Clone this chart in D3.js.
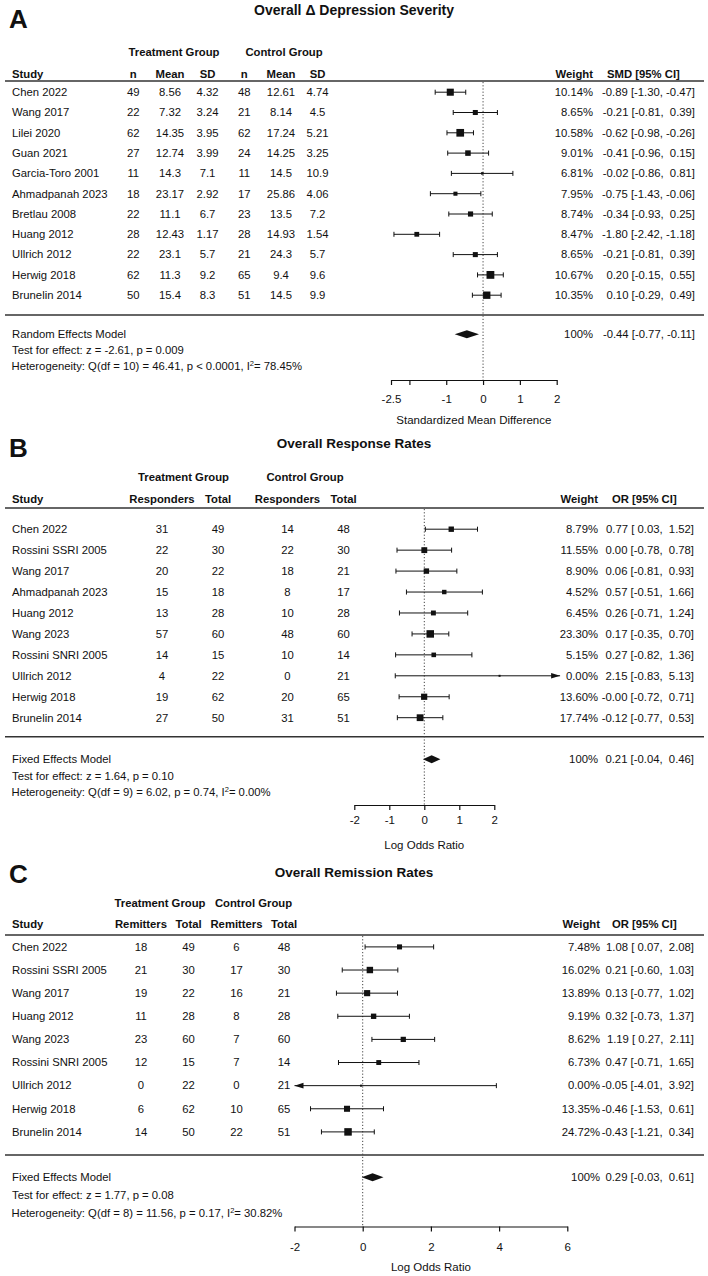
<!DOCTYPE html>
<html><head><meta charset="utf-8">
<script src="https://cdn.jsdelivr.net/npm/d3@7"></script>
<style>
body{margin:0;background:#fff;}
svg{display:block;font-family:"Liberation Sans",Arial,Helvetica,sans-serif;}
text{fill:#111;white-space:pre;}
</style></head><body>
<svg id="chart" width="708" height="1276"></svg>
<script>
// ---------- Panel A : Overall Δ Depression Severity ----------
const studiesA = ["Chen 2022","Wang 2017","Lilei 2020","Guan 2021","Garcia-Toro 2001","Ahmadpanah 2023","Bretlau 2008","Huang 2012","Ullrich 2012","Herwig 2018","Brunelin 2014"];
const tnA    = [49,22,62,27,11,18,22,28,22,62,50];
const tmeanA = [8.56,7.32,14.35,12.74,14.3,23.17,11.1,12.43,23.1,11.3,15.4];
const tsdA   = [4.32,3.24,3.95,3.99,7.1,2.92,6.7,1.17,5.7,9.2,8.3];
const cnA    = [48,21,62,24,11,17,23,28,21,65,51];
const cmeanA = [12.61,8.14,17.24,14.25,14.5,25.86,13.5,14.93,24.3,9.4,14.5];
const csdA   = [4.74,4.5,5.21,3.25,10.9,4.06,7.2,1.54,5.7,9.6,9.9];
const weightA = [10.14,8.65,10.58,9.01,6.81,7.95,8.74,8.47,8.65,10.67,10.35];
const estA  = [-0.89,-0.21,-0.62,-0.41,-0.02,-0.75,-0.34,-1.80,-0.21,0.20,0.10];
const lowA  = [-1.30,-0.81,-0.98,-0.96,-0.86,-1.43,-0.93,-2.42,-0.81,-0.15,-0.29];
const highA = [-0.47,0.39,-0.26,0.15,0.81,-0.06,0.25,-1.18,0.39,0.55,0.49];
const summaryA = [-0.44,-0.77,-0.11];
const ticksA = [-2.5,-2,-1,0,1,2];
const tickLabelsA = ["-2.5","","-1","0","1","2"];
const domainA = [-2.5,2];
const textA = ["Random Effects Model","Test for effect: z = -2.61, p = 0.009","Heterogeneity: Q(df = 10) = 46.41, p < 0.0001, I","2","= 78.45%"];

// ---------- Panel B : Overall Response Rates ----------
const studiesB = ["Chen 2022","Rossini SSRI 2005","Wang 2017","Ahmadpanah 2023","Huang 2012","Wang 2023","Rossini SNRI 2005","Ullrich 2012","Herwig 2018","Brunelin 2014"];
const trB = [31,22,20,15,13,57,14,4,19,27];
const ttB = [49,30,22,18,28,60,15,22,62,50];
const crB = [14,22,18,8,10,48,10,0,20,31];
const ctB = [48,30,21,17,28,60,14,21,65,51];
const weightB = [8.79,11.55,8.90,4.52,6.45,23.30,5.15,0.00,13.60,17.74];
const estB  = [0.77,0.00,0.06,0.57,0.26,0.17,0.27,2.15,-0.004,-0.12];
const lowB  = [0.03,-0.78,-0.81,-0.51,-0.71,-0.35,-0.82,-0.83,-0.72,-0.77];
const highB = [1.52,0.78,0.93,1.66,1.24,0.70,1.36,5.13,0.71,0.53];
const summaryB = [0.21,-0.04,0.46];
const ticksB = [-2,-1,0,1,2];
const tickLabelsB = ["-2","-1","0","1","2"];
const domainB = [-2,2];
const clipB = [-2,3.88];
const textB = ["Fixed Effects Model","Test for effect: z = 1.64, p = 0.10","Heterogeneity: Q(df = 9) = 6.02, p = 0.74, I","2","= 0.00%"];

// ---------- Panel C : Overall Remission Rates ----------
const studiesC = ["Chen 2022","Rossini SSRI 2005","Wang 2017","Huang 2012","Wang 2023","Rossini SNRI 2005","Ullrich 2012","Herwig 2018","Brunelin 2014"];
const trC = [18,21,19,11,23,12,0,6,14];
const ttC = [49,30,22,28,60,15,22,62,50];
const crC = [6,17,16,8,7,7,0,10,22];
const ctC = [48,30,21,28,60,14,21,65,51];
const weightC = [7.48,16.02,13.89,9.19,8.62,6.73,0.00,13.35,24.72];
const estC  = [1.08,0.21,0.13,0.32,1.19,0.47,-0.05,-0.46,-0.43];
const lowC  = [0.07,-0.60,-0.77,-0.73,0.27,-0.71,-4.01,-1.53,-1.21];
const highC = [2.08,1.03,1.02,1.37,2.11,1.65,3.92,0.61,0.34];
const summaryC = [0.29,-0.03,0.61];
const ticksC = [-2,0,2,4,6];
const tickLabelsC = ["-2","0","2","4","6"];
const domainC = [-2,6];
const clipC = [-2,6];
const textC = ["Fixed Effects Model","Test for effect: z = 1.77, p = 0.08","Heterogeneity: Q(df = 8) = 11.56, p = 0.17, I","2","= 30.82%"];

const svg = d3.select("#chart");
const FS = 11.3;
const INK = "#111", LINE = "#333";

function fmtCI(v){ return v < 0 ? v.toFixed(2) : " " + v.toFixed(2); }
function ciText(e,l,h){ return e.toFixed(2) + " [" + fmtCI(l) + ", " + fmtCI(h) + "]"; }

function txt(g, x, y, s, opt={}){
  return g.append("text").attr("x", x).attr("y", y)
    .attr("text-anchor", opt.anchor || "start")
    .style("font-size", (opt.size || FS) + "px")
    .style("font-weight", opt.bold ? "bold" : "normal")
    .text(s);
}

function panel(c){
  const g = svg.append("g");
  txt(g, 9, c.letterY, c.letter, {size:26, bold:true});
  txt(g, 354, c.titleY, c.title, {size:c.titleSize || 13.5, bold:true, anchor:"middle"});
  txt(g, c.groupX[0], c.groupY, "Treatment Group", {bold:true, anchor:"middle"});
  txt(g, c.groupX[1], c.groupY, "Control Group", {bold:true, anchor:"middle"});
  txt(g, 12, c.headY, "Study", {bold:true});
  c.colLabels.forEach((l,i)=> txt(g, c.colX[i], c.headY, l, {bold:true, anchor:"middle"}));
  txt(g, c.wX, c.headY, "Weight", {bold:true, anchor:"end"});
  txt(g, c.estHeadX, c.headY, c.estHead, {bold:true});
  g.append("line").attr("x1",5).attr("x2",704).attr("y1",c.lineY).attr("y2",c.lineY)
    .attr("stroke",LINE).attr("stroke-width",1.6);
  g.append("line").attr("x1",5).attr("x2",704).attr("y1",c.sepY).attr("y2",c.sepY)
    .attr("stroke",LINE).attr("stroke-width",1.6);

  const y = d3.scalePoint().domain(c.studies).range([c.row0, c.rowN]);
  const x = d3.scaleLinear().domain(c.domain).range(c.range);
  const size = c.sizeScale;

  // zero reference line
  g.append("line").attr("x1",x(0)).attr("x2",x(0)).attr("y1",c.lineY+1).attr("y2",c.axisY)
    .attr("stroke","#444").attr("stroke-width",1).attr("stroke-dasharray","1.2,2");

  c.studies.forEach((s,i)=>{
    const yb = y(s);
    txt(g, 12, yb, s);
    c.cols.forEach((arr,j)=> txt(g, c.colX[j], yb, String(arr[i]), {anchor:"middle"}));
    txt(g, c.wX, yb, c.weight[i].toFixed(2) + "%", {anchor:"end"});
    txt(g, c.estX, yb, ciText(c.est[i], c.low[i], c.high[i]), {anchor:"end"});

    const ym = yb - 3.8;
    const lo = Math.max(c.low[i], c.clip[0]);
    const hi = Math.min(c.high[i], c.clip[1]);
    g.append("line").attr("x1",x(lo)).attr("x2",x(hi)).attr("y1",ym).attr("y2",ym)
      .attr("stroke",INK).attr("stroke-width",1);
    if (c.low[i] >= c.clip[0]) {
      g.append("line").attr("x1",x(lo)).attr("x2",x(lo)).attr("y1",ym-2.5).attr("y2",ym+2.5).attr("stroke",INK).attr("stroke-width",1);
    } else {
      g.append("path").attr("d", `M${x(lo)},${ym} L${x(lo)+9},${ym-2.8} L${x(lo)+9},${ym+2.8} Z`).attr("fill",INK);
    }
    if (c.high[i] <= c.clip[1]) {
      g.append("line").attr("x1",x(hi)).attr("x2",x(hi)).attr("y1",ym-2.5).attr("y2",ym+2.5).attr("stroke",INK).attr("stroke-width",1);
    } else {
      g.append("path").attr("d", `M${x(hi)},${ym} L${x(hi)-9},${ym-2.8} L${x(hi)-9},${ym+2.8} Z`).attr("fill",INK);
    }
    const sz = size(c.weight[i]);
    g.append("rect").attr("x", x(c.est[i]) - sz/2).attr("y", ym - sz/2)
      .attr("width", sz).attr("height", sz).attr("fill", INK);
  });

  // summary row
  const [se, sl, sh] = c.summary;
  txt(g, 12, c.modelY[0], c.model[0]);
  txt(g, 12, c.modelY[1], c.model[1]);
  const het = txt(g, 11.5, c.modelY[2], c.model[2]);
  het.append("tspan").attr("dy",-4).style("font-size","7.5px").text(c.model[3]);
  het.append("tspan").attr("dy",4).text(c.model[4]);
  txt(g, c.wX, c.modelY[0], "100%", {anchor:"end"});
  txt(g, c.estX, c.modelY[0], ciText(se, sl, sh), {anchor:"end"});
  const yd = c.modelY[0] - 3.8;
  g.append("path").attr("d", `M${x(sl)},${yd} L${x(se)},${yd-4} L${x(sh)},${yd} L${x(se)},${yd+4} Z`).attr("fill",INK);

  // axis
  const ax = d3.axisBottom(x).tickValues(c.ticks).tickFormat((d,i)=>c.tickLabels[i])
    .tickSize(5).tickSizeOuter(0).tickPadding(c.tickPad);
  const ag = g.append("g").attr("transform",`translate(0,${c.axisY})`).call(ax);
  ag.select(".domain").attr("stroke",INK).attr("stroke-width",1.2);
  ag.selectAll(".tick line").attr("stroke",INK).attr("stroke-width",1.2);
  ag.selectAll(".tick text").attr("fill",INK).style("font-size","11.5px")
    .style("font-family",'"Liberation Sans",Arial,sans-serif');
  txt(g, (c.range[0]+c.range[1])/2, c.axisTitleY, c.axisTitle, {anchor:"middle", size:11.5});
}

panel({
  letter:"A", letterY:28, title:"Overall \u0394 Depression Severity", titleY:15, titleSize:14,
  groupX:[174,284], groupY:56, headY:77.5,
  colLabels:["n","Mean","SD","n","Mean","SD"], colX:[133.3,170,207.5,244.3,281,317.5],
  cols:[tnA,tmeanA,tsdA,cnA,cmeanA,csdA],
  wX:593, estX:695, estHeadX:607, estHead:"SMD [95% CI]",
  lineY:81, sepY:315, studies:studiesA, row0:96, rowN:299,
  domain:domainA, range:[391,556.7], clip:[-10,10],
  sizeScale:d3.scaleLinear().domain(d3.extent(weightA)).range([2.5,7.8]),
  weight:weightA, est:estA, low:lowA, high:highA, summary:summaryA,
  model:textA, modelY:[338,354,370],
  ticks:ticksA, tickLabels:tickLabelsA, axisY:380, tickPad:10, axisTitleY:424,
  axisTitle:"Standardized Mean Difference"
});

panel({
  letter:"B", letterY:457, title:"Overall Response Rates", titleY:448,
  groupX:[183.5,305], groupY:481, headY:503,
  colLabels:["Responders","Total","Responders","Total"], colX:[162,218,287.5,343.5],
  cols:[trB,ttB,crB,ctB],
  wX:598, estX:694, estHeadX:612, estHead:"OR [95% CI]",
  lineY:508, sepY:736.7, studies:studiesB, row0:533, rowN:721.5,
  domain:domainB, range:[354.3,494.3], clip:clipB,
  sizeScale:d3.scaleSqrt().domain([0,d3.max(weightB)]).range([2,7.5]),
  weight:weightB, est:estB, low:lowB, high:highB, summary:summaryB,
  model:textB, modelY:[763,780,796],
  ticks:ticksB, tickLabels:tickLabelsB, axisY:805, tickPad:5.5, axisTitleY:849,
  axisTitle:"Log Odds Ratio"
});

panel({
  letter:"C", letterY:883, title:"Overall Remission Rates", titleY:877,
  groupX:[160,253.5], groupY:907, headY:927.5,
  colLabels:["Remitters","Total","Remitters","Total"], colX:[141,188.5,236.5,284],
  cols:[trC,ttC,crC,ctC],
  wX:600, estX:694, estHeadX:612, estHead:"OR [95% CI]",
  lineY:935, sepY:1155, studies:studiesC, row0:950.7, rowN:1135.7,
  domain:domainC, range:[294.5,567.3], clip:clipC,
  sizeScale:d3.scaleSqrt().domain([0,d3.max(weightC)]).range([2,7.5]),
  weight:weightC, est:estC, low:lowC, high:highC, summary:summaryC,
  model:textC, modelY:[1181,1199,1217],
  ticks:ticksC, tickLabels:tickLabelsC, axisY:1226.5, tickPad:11, axisTitleY:1271,
  axisTitle:"Log Odds Ratio"
});
</script>
</body></html>
